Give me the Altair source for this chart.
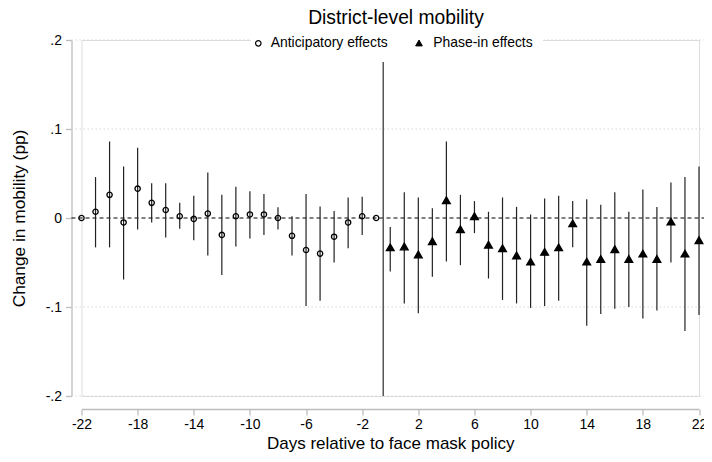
import altair as alt
import pandas as pd

# ---- data ----
days_ant = list(range(-22, 0))
coef_ant = [0.000, 0.007, 0.026, -0.005, 0.033, 0.017, 0.009, 0.002, -0.001, 0.005, -0.019,
            0.002, 0.004, 0.004, 0.000, -0.020, -0.036, -0.040, -0.021, -0.005, 0.002, 0.000]
lo_ant = [0.000, -0.033, -0.033, -0.069, -0.013, -0.005, -0.022, -0.012, -0.025, -0.042, -0.064,
          -0.032, -0.023, -0.019, -0.013, -0.042, -0.099, -0.093, -0.050, -0.034, -0.019, 0.000]
hi_ant = [0.000, 0.046, 0.086, 0.058, 0.079, 0.039, 0.039, 0.017, 0.025, 0.051, 0.026,
          0.035, 0.030, 0.027, 0.012, 0.002, 0.027, 0.013, 0.008, 0.023, 0.024, 0.000]

days_ph = list(range(0, 23))
coef_ph = [-0.033, -0.032, -0.041, -0.026, 0.020, -0.0125, 0.002, -0.030, -0.034, -0.042, -0.049,
           -0.038, -0.033, -0.006, -0.049, -0.046, -0.035, -0.046, -0.040, -0.046, -0.004, -0.040, -0.025]
lo_ph = [-0.060, -0.096, -0.107, -0.066, -0.049, -0.053, -0.017, -0.068, -0.092, -0.096, -0.101,
         -0.099, -0.093, -0.033, -0.121, -0.108, -0.102, -0.100, -0.113, -0.104, -0.050, -0.127, -0.109]
hi_ph = [-0.010, 0.029, 0.023, 0.011, 0.086, 0.026, 0.019, 0.007, 0.023, 0.0125, 0.004,
         0.022, 0.025, 0.019, 0.021, 0.015, 0.029, 0.007, 0.032, 0.0125, 0.040, 0.046, 0.058]

series_names = ["Anticipatory effects", "Phase-in effects"]
chart_title = ["District-level mobility"]
x_ticks = [-22, -18, -14, -10, -6, -2, 2, 6, 10, 14, 18, 22]
y_ticks = [-0.2, -0.1, 0, 0.1, 0.2]
grid_vals = [-0.2, -0.1, 0.1, 0.2]
zero_val = [0]
policy_day = [-0.5]

W, H = 617.5, 356
FONT = "Liberation Sans"

df = pd.DataFrame({
    "day": days_ant + days_ph,
    "coef": coef_ant + coef_ph,
    "lo": lo_ant + lo_ph,
    "hi": hi_ant + hi_ph,
    "series": [series_names[0]] * len(days_ant) + [series_names[1]] * len(days_ph),
})

x_scale = alt.Scale(domain=[-22, 22], nice=False, zero=False)
y_scale = alt.Scale(domain=[-0.2, 0.2], nice=False, zero=False)

x_axis = alt.Axis(
    values=x_ticks, title="Days relative to face mask policy", offset=13,
    labelExpr="(datum.value < 0 ? '-' : '') + toString(abs(datum.value))",
    labelFlush=False, labelOverlap=False, grid=False,
    domainColor="#bdbdbd", domainWidth=1.3, tickColor="#bdbdbd", tickWidth=1.3, tickSize=6,
    labelFont=FONT, labelFontSize=14, labelColor="#000", labelPadding=2,
    titleFont=FONT, titleFontSize=17, titleFontWeight="normal", titleColor="#000", titlePadding=4,
)
y_axis = alt.Axis(
    values=y_ticks, title="Change in mobility (pp)", offset=10,
    labelExpr="datum.value == 0 ? '0' : (datum.value < 0 ? '-' : '') + '.' + toString(round(abs(datum.value)*10))",
    labelFlush=False, labelOverlap=False, grid=False,
    domainColor="#bdbdbd", domainWidth=1.3, tickColor="#bdbdbd", tickWidth=1.3, tickSize=6,
    labelFont=FONT, labelFontSize=14, labelColor="#000", labelPadding=4,
    titleFont=FONT, titleFontSize=17.3, titleFontWeight="normal", titleColor="#000", titlePadding=17,
)

grid = alt.Chart(pd.DataFrame({"val": grid_vals})).mark_rule(
    color="#d6d6d6", strokeDash=[1.5, 2.5], strokeWidth=1
).encode(
    y=alt.Y("val:Q", scale=y_scale, axis=y_axis),
    x=alt.value(-10), x2=alt.value(W + 10),
)

zero = alt.Chart(pd.DataFrame({"val": zero_val})).mark_rule(
    color="#000", strokeDash=[4, 3], strokeWidth=1
).encode(
    y=alt.Y("val:Q", scale=y_scale, axis=y_axis),
    x=alt.value(-10), x2=alt.value(W + 10),
)

vline = alt.Chart(pd.DataFrame({"day": policy_day})).mark_rule(
    color="#555", strokeWidth=1.5
).encode(
    x=alt.X("day:Q", scale=x_scale, axis=x_axis),
    y=alt.value(0), y2=alt.value(H),
)

bars = alt.Chart(df).mark_rule(color="#222", strokeWidth=1.2).encode(
    x=alt.X("day:Q", scale=x_scale, axis=x_axis),
    y=alt.Y("lo:Q", scale=y_scale, axis=y_axis),
    y2="hi:Q",
)

points = alt.Chart(df).mark_point(filled=True, stroke="#000", strokeWidth=1.3, opacity=1).encode(
    x=alt.X("day:Q", scale=x_scale, axis=x_axis),
    y=alt.Y("coef:Q", scale=y_scale, axis=y_axis),
    shape=alt.Shape("series:N", scale=alt.Scale(domain=series_names, range=["circle", "triangle-up"]), legend=None),
    fill=alt.Fill("series:N", scale=alt.Scale(domain=series_names, range=["transparent", "#000"]), legend=None),
    size=alt.Size("series:N", scale=alt.Scale(domain=series_names, range=[28, 60]), legend=None),
)

# ---- legend drawn inside the plot (white box, symbols, labels) ----
leg_box = alt.Chart(pd.DataFrame({"k": [0]})).mark_rect(color="white").encode(
    x=alt.value(169.5), x2=alt.value(461.5), y=alt.value(-10), y2=alt.value(22),
)
leg_sym1 = alt.Chart(pd.DataFrame({"k": [0]})).mark_point(
    shape="circle", filled=False, stroke="#000", strokeWidth=1.2, size=30, opacity=1
).encode(x=alt.value(176.8), y=alt.value(3.3))
leg_sym2 = alt.Chart(pd.DataFrame({"k": [0]})).mark_point(
    shape="triangle-up", filled=True, fill="#000", stroke="#000", strokeWidth=1, size=45, opacity=1
).encode(x=alt.value(337.5), y=alt.value(3.0))
leg_txt1 = alt.Chart(pd.DataFrame({"label": [series_names[0]]})).mark_text(
    font=FONT, fontSize=13.9, color="#000", align="left", baseline="middle"
).encode(text="label:N", x=alt.value(189.2), y=alt.value(3.3))
leg_txt2 = alt.Chart(pd.DataFrame({"label": [series_names[1]]})).mark_text(
    font=FONT, fontSize=13.9, color="#000", align="left", baseline="middle"
).encode(text="label:N", x=alt.value(351.8), y=alt.value(3.3))

title = alt.Chart(pd.DataFrame({"t": chart_title})).mark_text(
    font=FONT, fontSize=19.3, color="#000", align="center", baseline="alphabetic"
).encode(text="t:N", x=alt.value(314.5), y=alt.value(-16))

chart = alt.layer(grid, zero, vline, bars, points, leg_box, leg_sym1, leg_sym2,
                  leg_txt1, leg_txt2, title).properties(
    width=W, height=H,
    padding={"left": 73.5, "top": 32, "right": 5, "bottom": 57},
    autosize=alt.AutoSizeParams(type="none"),
).configure_view(stroke=None).configure(background="white")

chart.save("out.html", embed_options={"renderer": "svg", "actions": False})
